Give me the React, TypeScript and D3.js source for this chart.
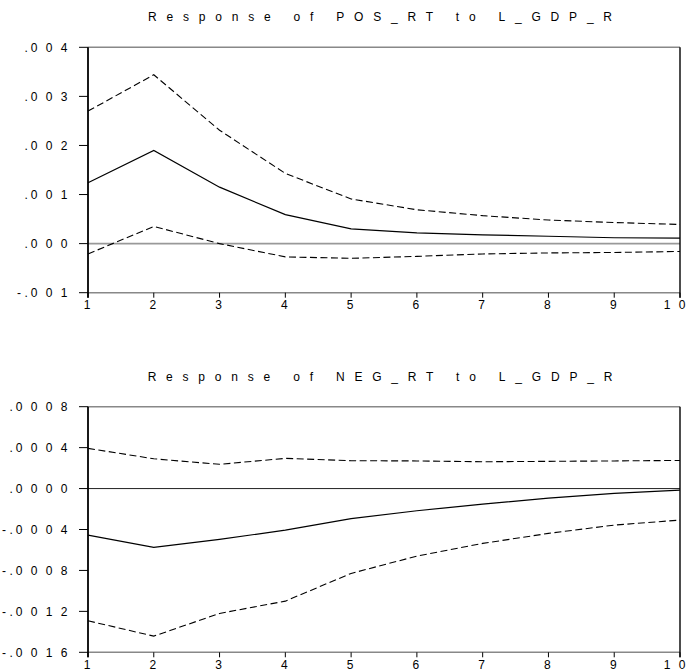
import React from "react";
import * as d3 from "d3";

const periods = [1, 2, 3, 4, 5, 6, 7, 8, 9, 10];
const xTickLabels = ["1", "2", "3", "4", "5", "6", "7", "8", "9", "10"];

const posResp = [0.00124, 0.0019, 0.00115, 0.00059, 0.0003, 0.00022, 0.00018, 0.00015, 0.00012, 0.00011];
const posUpper = [0.0027, 0.00344, 0.00231, 0.00143, 0.00091, 0.00069, 0.00057, 0.00048, 0.00043, 0.00039];
const posLower = [-0.00021, 0.00035, 0.0, -0.00027, -0.0003, -0.00026, -0.00021, -0.00019, -0.00018, -0.00016];
const posTickValues = [0.004, 0.003, 0.002, 0.001, 0.0, -0.001];
const posTickLabels = [".004", ".003", ".002", ".001", ".000", "-.001"];

const negResp = [-0.000455, -0.000575, -0.000497, -0.000406, -0.000293, -0.000217, -0.000152, -0.000093, -0.000047, -0.000015];
const negUpper = [0.000393, 0.000291, 0.000237, 0.000295, 0.000272, 0.00027, 0.000262, 0.000266, 0.00027, 0.000275];
const negLower = [-0.001292, -0.001442, -0.00122, -0.0011, -0.000829, -0.00066, -0.000536, -0.000438, -0.000357, -0.000308];
const negTickValues = [0.0008, 0.0004, 0.0, -0.0004, -0.0008, -0.0012, -0.0016];
const negTickLabels = [".0008", ".0004", ".0000", "-.0004", "-.0008", "-.0012", "-.0016"];

const FONT = "'Liberation Sans', Arial, Helvetica, sans-serif";
const FS = 12;
const TITLE_LS = 9.8;
const DIGIT_PITCH = 15;

function charCenters(text: string, lastCenter: number): number[] {
  const chars = text.split("");
  const xs: number[] = new Array(chars.length);
  let cur = lastCenter;
  for (let i = chars.length - 1; i >= 0; i--) {
    xs[i] = cur;
    if (i > 0) {
      const prev = chars[i - 1];
      cur -= prev === "." ? 7.8 : prev === "-" ? 7.3 : DIGIT_PITCH;
    }
  }
  return xs;
}

function SpacedLabel(props: { lastCenter: number; y: number; text: string }) {
  const chars = props.text.split("");
  const xs = charCenters(props.text, props.lastCenter);
  return (
    <g>
      {chars.map((c, i) => (
        <text
          key={i}
          x={xs[i]}
          y={props.y}
          textAnchor="middle"
          fontFamily={FONT}
          fontSize={FS}
          fill="#000"
        >
          {c}
        </text>
      ))}
    </g>
  );
}

type PanelProps = {
  title: string;
  top: number;
  bottom: number;
  domain: [number, number];
  resp: number[];
  upper: number[];
  lower: number[];
  tickValues: number[];
  tickLabels: string[];
  zeroColor: string;
  zeroWidth: number;
};

const X0 = 88;
const X1 = 680;

function Panel(p: PanelProps) {
  const x = d3.scaleLinear().domain([1, 10]).range([X0, X1]);
  const y = d3.scaleLinear().domain(p.domain).range([p.bottom, p.top]);
  const line = d3
    .line<number>()
    .x((_, i) => x(periods[i]))
    .y((d) => y(d));
  return (
    <g>
      <text
        x={380 + TITLE_LS / 2}
        y={p.top - 26}
        textAnchor="middle"
        fontFamily={FONT}
        fontSize={FS}
        letterSpacing={TITLE_LS}
        fill="#000"
      >
        {p.title}
      </text>
      <line x1={X0} x2={X1} y1={y(0)} y2={y(0)} stroke={p.zeroColor} strokeWidth={p.zeroWidth} />
      <line x1={X0} x2={X1} y1={p.top} y2={p.top} stroke="#888" strokeWidth={1.6} />
      <line x1={X0} x2={X1} y1={p.bottom} y2={p.bottom} stroke="#888" strokeWidth={1.6} />
      <line x1={X0} x2={X0} y1={p.top} y2={p.bottom + 5} stroke="#000" strokeWidth={1.8} />
      <line x1={X1} x2={X1} y1={p.top} y2={p.bottom + 5} stroke="#000" strokeWidth={1.4} />
      {p.tickValues.map((v, i) => (
        <g key={"yt" + i}>
          <line x1={X0 - 9} x2={X0} y1={y(v)} y2={y(v)} stroke="#000" strokeWidth={1} />
          <SpacedLabel lastCenter={X0 - 24} y={y(v) + 4.3} text={p.tickLabels[i]} />
        </g>
      ))}
      {periods.map((d, i) => (
        <g key={"xt" + i}>
          <line x1={x(d)} x2={x(d)} y1={p.bottom} y2={p.bottom + 5} stroke="#000" strokeWidth={1} />
          <SpacedLabel
            lastCenter={xTickLabels[i].length > 1 ? x(d) + 2 : x(d) - 1}
            y={p.bottom + 16.5}
            text={xTickLabels[i]}
          />
        </g>
      ))}
      <path d={line(p.upper) || ""} fill="none" stroke="#000" strokeWidth={1.1} strokeDasharray="7,3.5" />
      <path d={line(p.lower) || ""} fill="none" stroke="#000" strokeWidth={1.1} strokeDasharray="7,3.5" />
      <path d={line(p.resp) || ""} fill="none" stroke="#000" strokeWidth={1.2} />
    </g>
  );
}

export default function App() {
  return (
    <svg width={688} height={670} style={{ position: "absolute", left: 0, top: 0, background: "#fff" }}>
      <rect x={0} y={0} width={688} height={670} fill="#fff" />
      <Panel
        title="Response of POS_RT to L_GDP_R"
        top={47.3}
        bottom={292.7}
        domain={[-0.001, 0.004]}
        resp={posResp}
        upper={posUpper}
        lower={posLower}
        tickValues={posTickValues}
        tickLabels={posTickLabels}
        zeroColor="#999"
        zeroWidth={1.6}
      />
      <Panel
        title="Response of NEG_RT to L_GDP_R"
        top={406.7}
        bottom={652.3}
        domain={[-0.0016, 0.0008]}
        resp={negResp}
        upper={negUpper}
        lower={negLower}
        tickValues={negTickValues}
        tickLabels={negTickLabels}
        zeroColor="#222"
        zeroWidth={1}
      />
    </svg>
  );
}
